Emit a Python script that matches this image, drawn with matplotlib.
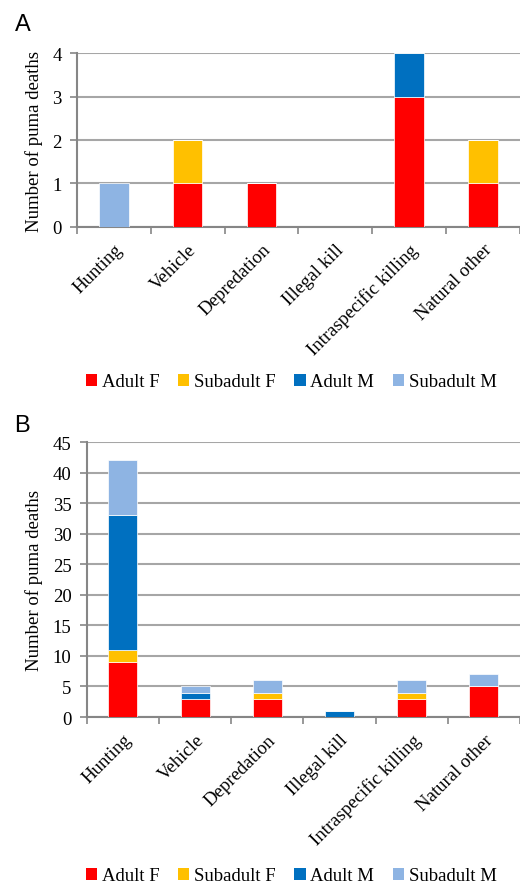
import matplotlib
matplotlib.use("Agg")
import matplotlib.pyplot as plt
import numpy as np
from matplotlib.patches import Patch

categories = ["Hunting", "Vehicle", "Depredation", "Illegal kill",
              "Intraspecific killing", "Natural other"]
series_names = ["Adult F", "Subadult F", "Adult M", "Subadult M"]
colors = ["#FF0000", "#FFC000", "#0070C0", "#8EB4E3"]

# Panel A
a_adult_f = [0, 1, 1, 0, 3, 1]
a_subadult_f = [0, 1, 0, 0, 0, 1]
a_adult_m = [0, 0, 0, 0, 1, 0]
a_subadult_m = [1, 0, 0, 0, 0, 0]
a_yticks = [0, 1, 2, 3, 4]

# Panel B
b_adult_f = [9, 3, 3, 0, 3, 5]
b_subadult_f = [2, 0, 1, 0, 1, 0]
b_adult_m = [22, 1, 0, 1, 0, 0]
b_subadult_m = [9, 1, 2, 0, 2, 2]
b_yticks = [0, 5, 10, 15, 20, 25, 30, 35, 40, 45]

serif = "Liberation Serif"
fs = 13.5
gridc = "#A6A6A6"
spinec = "#868686"

fig = plt.figure(figsize=(5.2, 8.87), dpi=100)

def panel(rect, data, yticks, letter, letter_pos, legend_y):
    ax = fig.add_axes(rect)
    x = np.arange(len(categories))
    bottom = np.zeros(len(categories))
    for vals, c in zip(data, colors):
        v = np.array(vals, dtype=float)
        ax.bar(x, v, width=0.4, bottom=bottom, color=c, edgecolor="white",
               linewidth=0.5, zorder=3)
        bottom += v
    ax.set_xlim(-0.5, len(categories) - 0.5)
    ax.set_ylim(yticks[0], yticks[-1])
    ax.set_yticks(yticks)
    ax.set_yticklabels([str(t) for t in yticks], fontfamily=serif, fontsize=fs)
    ax.yaxis.grid(True, color=gridc, linewidth=1.5, zorder=0)
    ax.set_axisbelow(True)
    ax.set_xticks(x)
    ax.set_xticklabels(categories, rotation=45, ha="right", va="top",
                       rotation_mode="anchor", fontfamily=serif, fontsize=fs)
    ax.set_xticks(np.arange(-0.5, len(categories) + 0.5, 1), minor=True)
    ax.tick_params(axis="x", which="major", length=0, pad=10)
    ax.tick_params(axis="x", which="minor", length=5, color=spinec, width=1.2)
    ax.tick_params(axis="y", length=5, color=spinec, width=1.2, pad=6)
    for s in ["top", "right"]:
        ax.spines[s].set_visible(False)
    for s in ["left", "bottom"]:
        ax.spines[s].set_color(spinec)
        ax.spines[s].set_linewidth(1.5)
    ax.set_ylabel("Number of puma deaths", fontfamily=serif, fontsize=fs,
                  labelpad=7)
    fig.text(letter_pos[0], letter_pos[1], letter, fontfamily="Liberation Sans",
             fontsize=17, ha="left", va="center")
    handles = [Patch(facecolor=c, edgecolor="none") for c in colors]
    fig.legend(handles, series_names, loc="center", ncol=4,
               bbox_to_anchor=(0.56, legend_y), frameon=False,
               prop={"family": serif, "size": fs}, handlelength=0.6,
               handleheight=0.6, handletextpad=0.25, columnspacing=1.0,
               borderaxespad=0.0, borderpad=0.1)
    return ax

panel([0.148, 0.743, 0.852, 0.196],
      [a_adult_f, a_subadult_f, a_adult_m, a_subadult_m],
      a_yticks, "A", (0.028, 1 - 25 / 887), 1 - 383 / 887)
panel([0.167, 0.1905, 0.833, 0.310],
      [b_adult_f, b_subadult_f, b_adult_m, b_subadult_m],
      b_yticks, "B", (0.028, 1 - 426 / 887), 1 - 877 / 887)

fig.savefig("out.png", dpi=100)
